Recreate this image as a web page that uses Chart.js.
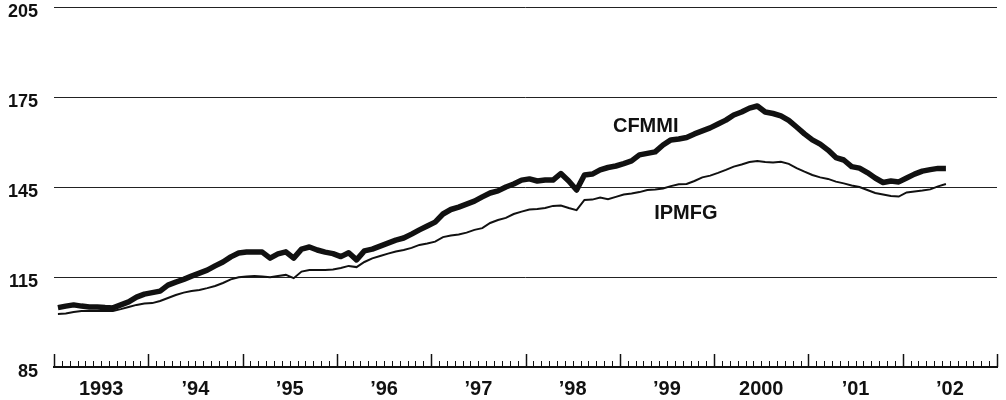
<!DOCTYPE html>
<html>
<head>
<meta charset="utf-8">
<script src="https://cdn.jsdelivr.net/npm/chart.js@4/dist/chart.umd.min.js"></script>
<style>
  html, body { margin: 0; padding: 0; background: #fff; }
  #wrap { width: 1006px; height: 400px; }
</style>
</head>
<body>
<div id="wrap"><canvas id="chart"></canvas></div>
<script>
// one label per year, centred in the year
const yearLabels = ['1993', '\u201994', '\u201995', '\u201996', '\u201997', '\u201998', '\u201999', '2000', '\u201901', '\u201902'];
const yTicks = [85, 115, 145, 175, 205];

// monthly values, Jan 1993 .. Jun 2002
const cfmmi = [
  104.8, 105.3, 105.7, 105.3, 105.0, 105.0, 104.8, 104.7, 105.7, 106.7, 108.3, 109.3,
  109.8, 110.3, 112.3, 113.3, 114.2, 115.3, 116.3, 117.3, 118.7, 120.0, 121.7, 123.0,
  123.3, 123.3, 123.3, 121.3, 122.7, 123.4, 121.3, 124.3, 125.0, 124.0, 123.3, 122.8,
  121.8, 123.1, 120.7, 123.7, 124.3, 125.3, 126.3, 127.3, 128.0, 129.3, 130.7, 132.0,
  133.3, 136.0, 137.5, 138.3, 139.3, 140.3, 141.7, 143.0, 143.7, 145.0, 146.0, 147.3,
  147.7, 147.0, 147.3, 147.3, 149.5, 147.0, 144.0, 149.0, 149.3, 150.7, 151.5, 152.0,
  152.8, 153.7, 155.7, 156.2, 156.7, 159.0, 160.7, 161.0, 161.5, 162.7, 163.7, 164.7,
  166.0, 167.3, 169.0, 170.0, 171.3, 172.0, 170.0, 169.5, 168.7, 167.2, 165.0, 162.7,
  160.7, 159.3, 157.3, 154.8, 154.0, 151.8, 151.3, 149.8, 148.0, 146.5, 147.0, 146.7,
  148.0, 149.3, 150.3, 150.8, 151.2, 151.2
];
const ipmfg = [
  102.7, 102.8, 103.3, 103.7, 103.7, 103.7, 103.7, 103.7, 104.3, 105.0, 105.7, 106.2,
  106.3, 107.0, 108.0, 109.0, 109.8, 110.3, 110.7, 111.3, 112.0, 113.0, 114.2, 114.9,
  115.2, 115.3, 115.2, 114.9, 115.3, 115.7, 114.6, 116.8, 117.3, 117.3, 117.3, 117.5,
  118.0, 118.7, 118.3, 120.0, 121.2, 122.0, 122.8, 123.5, 124.0, 124.7, 125.7, 126.2,
  126.8, 128.3, 128.8, 129.2, 129.8, 130.7, 131.3, 133.0, 134.0, 134.7, 136.0, 136.8,
  137.5, 137.7, 138.0, 138.7, 138.8, 138.0, 137.3, 140.7, 140.8, 141.5, 140.9, 141.7,
  142.5, 142.8, 143.3, 144.0, 144.2, 144.5, 145.3, 145.9, 146.0, 147.0, 148.2, 148.8,
  149.7, 150.7, 151.8, 152.5, 153.3, 153.7, 153.3, 153.2, 153.4, 152.7, 151.3, 150.1,
  149.0, 148.2, 147.7, 146.8, 146.2, 145.5, 145.0, 144.0, 143.0, 142.5, 142.0, 141.8,
  143.2, 143.5, 143.8, 144.2, 145.2, 146.0
];

const face = '"Liberation Sans", Arial, Helvetica, sans-serif';
const ink = '#111';

// series names written next to the lines (month, value)
const seriesTags = [
  { text: 'CFMMI', x: 75.3, y: 165.3 },
  { text: 'IPMFG', x: 80.4, y: 136.3 }
];

// monthly tick marks standing up from the axis, longer at year starts
const monthTicks = {
  id: 'monthTicks',
  afterDraw(chart) {
    const { ctx, chartArea, scales } = chart;
    ctx.save();
    ctx.strokeStyle = ink;
    for (let m = 0; m <= 120; m++) {
      const px = Math.round(scales.x.getPixelForValue(m)) + 0.5;
      const major = m % 12 === 0;
      ctx.lineWidth = major ? 1.5 : 1;
      ctx.beginPath();
      ctx.moveTo(px, chartArea.bottom);
      ctx.lineTo(px, chartArea.bottom - (major ? 13 : 6));
      ctx.stroke();
    }
    ctx.restore();
  }
};

const tags = {
  id: 'tags',
  afterDatasetsDraw(chart) {
    const { ctx, scales } = chart;
    ctx.save();
    ctx.fillStyle = ink;
    ctx.font = 'bold 20px ' + face;
    ctx.textAlign = 'center';
    ctx.textBaseline = 'middle';
    seriesTags.forEach(t => {
      ctx.fillText(t.text, scales.x.getPixelForValue(t.x), scales.y.getPixelForValue(t.y));
    });
    ctx.restore();
  }
};

const toPoints = arr => arr.map((v, i) => ({ x: i + 0.5, y: v }));

new Chart(document.getElementById('chart'), {
  type: 'line',
  data: {
    datasets: [
      {
        label: 'CFMMI',
        data: toPoints(cfmmi),
        borderColor: ink,
        borderWidth: 5.5,
        pointRadius: 0,
        tension: 0,
        borderJoinStyle: 'round'
      },
      {
        label: 'IPMFG',
        data: toPoints(ipmfg),
        borderColor: ink,
        borderWidth: 2,
        pointRadius: 0,
        tension: 0
      }
    ]
  },
  options: {
    responsive: true,
    maintainAspectRatio: false,
    animation: false,
    layout: { padding: { left: 8, right: 9, top: 7, bottom: 0 } },
    plugins: {
      legend: { display: false },
      tooltip: { enabled: false }
    },
    scales: {
      x: {
        type: 'linear',
        min: 0,
        max: 120,
        afterBuildTicks: s => { s.ticks = yearLabels.map((_, k) => ({ value: k * 12 + 6 })); },
        afterFit: s => { s.height = 33; s.paddingLeft = 0; s.paddingRight = 0; },
        ticks: {
          autoSkip: false,
          maxRotation: 0,
          padding: 10,
          color: ink,
          font: { family: face, size: 20, weight: 'bold' },
          callback: (v, i) => yearLabels[i]
        },
        grid: { display: false, drawTicks: false },
        border: { display: true, color: ink, width: 2 }
      },
      y: {
        min: 85,
        max: 205,
        afterBuildTicks: s => { s.ticks = yTicks.map(v => ({ value: v })); },
        afterFit: s => { s.width = 46; s.paddingTop = 0; s.paddingBottom = 0; },
        ticks: {
          padding: 16,
          labelOffset: 5,
          color: ink,
          font: { family: face, size: 18, weight: 'bold', lineHeight: 1 }
        },
        grid: { color: '#222', lineWidth: 1, drawTicks: false },
        border: { display: false }
      }
    }
  },
  plugins: [monthTicks, tags]
});
</script>
</body>
</html>
